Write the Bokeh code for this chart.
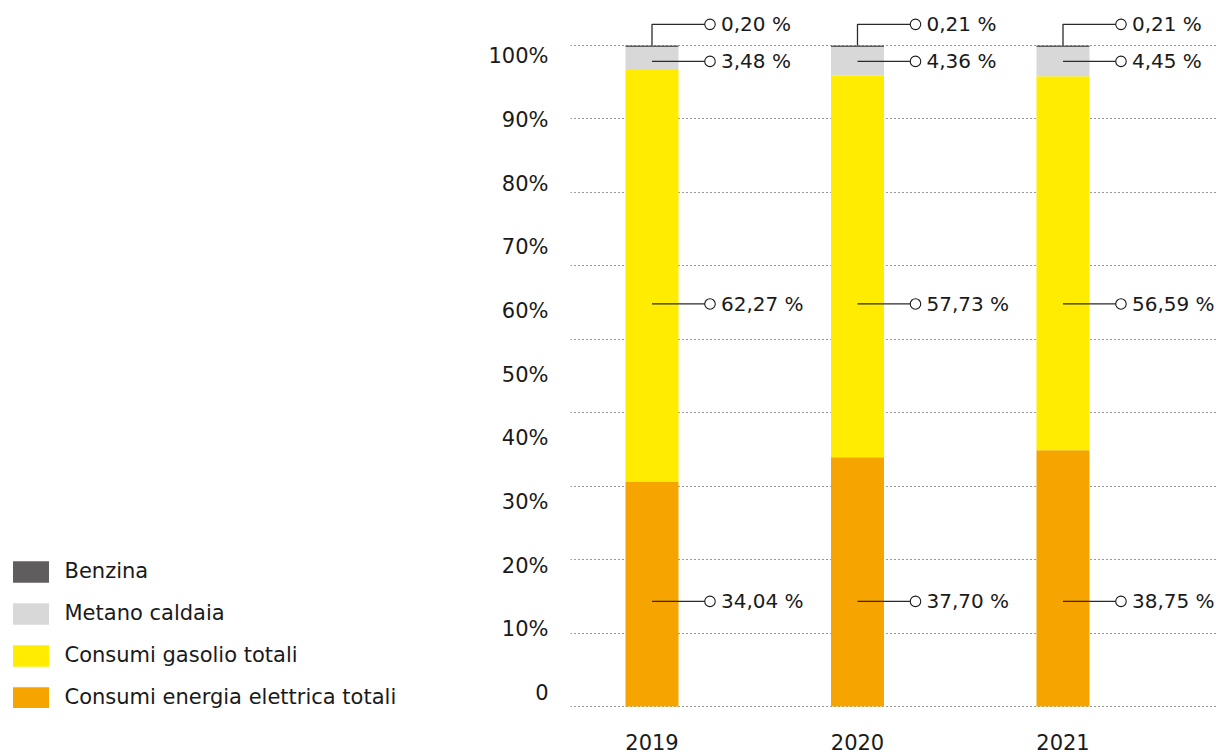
from bokeh.plotting import figure
from bokeh.layouts import row
from bokeh.models import (Range1d, FixedTicker, Legend, LegendItem, ColumnDataSource)
from bokeh.core.properties import value
from bokeh.embed import file_html
from bokeh.resources import INLINE

# Share of energy consumption by source, per year (%)
years = [2019, 2020, 2021]
energia = [34.04, 37.70, 38.75]   # Consumi energia elettrica totali
gasolio = [62.27, 57.73, 56.59]   # Consumi gasolio totali
metano = [3.48, 4.36, 4.45]       # Metano caldaia
benzina = [0.20, 0.21, 0.21]      # Benzina

series_names = ["Consumi energia elettrica totali", "Consumi gasolio totali",
                "Metano caldaia", "Benzina"]
series_keys = ["energia", "gasolio", "metano", "benzina"]
colors = ["#f6a500", "#ffec00", "#d8d8d8", "#5f5d5d"]

y_tick_labels = ["0", "10%", "20%", "30%", "40%", "50%", "60%", "70%", "80%", "90%", "100%"]

FONT = "DejaVu Sans"
TEXT = "#1a1a1a"

W, H = 1216, 756
LEGEND_W = 480          # width of the legend column
AXIS_W = 90             # space for the y tick labels
BOTTOM = 48

p = figure(width=W - LEGEND_W, height=H, output_backend="svg", toolbar_location=None,
           x_range=Range1d(2018.6034, 2021.747), y_range=Range1d(-0.3026, 106.81),
           min_border_left=AXIS_W, min_border_right=0, min_border_top=0,
           min_border_bottom=BOTTOM, outline_line_color=None)
p.background_fill_color = "white"
p.border_fill_color = "white"

source = ColumnDataSource(dict(years=years, energia=energia, gasolio=gasolio,
                               metano=metano, benzina=benzina))
bars = p.vbar_stack(series_keys, x="years", width=0.258, color=colors,
                    line_color=None, source=source)

# horizontal dotted grid, ten equal steps from 0 to 100
p.xgrid.visible = False
p.ygrid.ticker = FixedTicker(ticks=[100 * k / 9 for k in range(10)])
p.ygrid.grid_line_color = "#333333"
p.ygrid.grid_line_dash = "1 3"
p.ygrid.grid_line_width = 1

# y axis labels
label_pos = [round(2.04 + k * 9.633, 3) for k in range(len(y_tick_labels))]
ya = p.yaxis[0]
ya.ticker = FixedTicker(ticks=label_pos)
ya.major_label_overrides = {pos: lab for pos, lab in zip(label_pos, y_tick_labels)}
ya.axis_line_color = None
ya.major_tick_line_color = None
ya.minor_tick_line_color = None
ya.major_tick_out = 0
ya.major_tick_in = 0
ya.major_label_standoff = 22
ya.major_label_text_font = FONT
ya.major_label_text_font_size = "21px"
ya.major_label_text_color = TEXT

xa = p.xaxis[0]
xa.ticker = FixedTicker(ticks=years)
xa.axis_line_color = None
xa.major_tick_line_color = None
xa.minor_tick_line_color = None
xa.major_tick_out = 0
xa.major_tick_in = 0
xa.major_label_standoff = 25
xa.major_label_text_font = FONT
xa.major_label_text_font_size = "21px"
xa.major_label_text_color = TEXT

# value callouts: leader line, small circle and text
label_levels = {"benzina": 103.2, "metano": 97.6, "gasolio": 60.9, "energia": 15.9}
callout_dx = 0.2822

seg_x, seg_y = [], []
cx, cy, ctext = [], [], []
for i, yr in enumerate(years):
    tops = {}
    base = 0.0
    for key, vals in zip(series_keys, [energia, gasolio, metano, benzina]):
        tops[key] = base + vals[i]
        base += vals[i]
    for key, vals in zip(series_keys, [energia, gasolio, metano, benzina]):
        lvl = label_levels[key]
        if key == "benzina":
            seg_x.append([yr, yr, yr + callout_dx])
            seg_y.append([tops[key], lvl, lvl])
        else:
            seg_x.append([yr, yr + callout_dx])
            seg_y.append([lvl, lvl])
        cx.append(yr + callout_dx)
        cy.append(lvl)
        ctext.append(f"{vals[i]:.2f}".replace(".", ",") + " %")

p.multi_line(xs=seg_x, ys=seg_y, line_color="#2a2a2a", line_width=1.3)
p.scatter(x=cx, y=cy, marker="circle", size=10.5, fill_color="white",
          line_color="#1a1a1a", line_width=1.1)
p.text(x=cx, y=cy, text=ctext, x_offset=11, text_baseline="middle",
       text_align="left", text_font=value(FONT), text_font_size="20px",
       text_color=TEXT)

# legend column on the left; its swatch renderers share the data but sit
# outside this panel's visible range
lg = figure(width=LEGEND_W, height=H, output_backend="svg", toolbar_location=None,
            x_axis_type=None, y_axis_type=None, x_range=Range1d(0, 1), y_range=Range1d(0, 1),
            min_border=0, outline_line_color=None)
lg.grid.visible = False
lg.border_fill_color = "white"
swatches = lg.vbar_stack(series_keys, x="years", width=0.258, color=colors,
                         line_color=None, source=source)

# top to bottom: Benzina, Metano, Gasolio, Energia
items = [LegendItem(label=name, renderers=[r])
         for name, r in zip(series_names, swatches)][::-1]
legend = Legend(items=items, location=(7.5, -2.5), orientation="vertical",
                glyph_width=45, glyph_height=27, label_standoff=12, spacing=15,
                padding=0, margin=0, border_line_alpha=0, background_fill_alpha=0,
                label_text_font=FONT, label_text_font_size="21px",
                label_text_color=TEXT, label_height=27)
lg.add_layout(legend, "center")

layout = row(lg, p, spacing=0)
open("out.html", "w").write(file_html(layout, INLINE))
